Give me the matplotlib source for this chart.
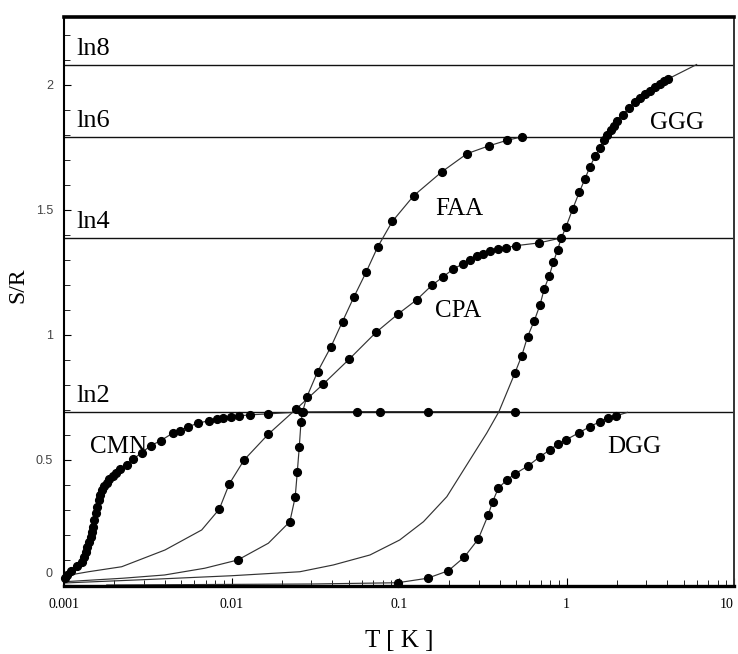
import numpy as np
import matplotlib.pyplot as plt
import matplotlib.transforms as mtransforms
from matplotlib.ticker import MultipleLocator

# Plateau levels S/R = ln(n)
ln_n = [2, 4, 6, 8]
ln_labels = ["ln2", "ln4", "ln6", "ln8"]

# CMN (measured points)
cmn_T = [0.00101, 0.00104, 0.00110, 0.00120, 0.00128, 0.00132, 0.00135, 0.00138, 0.00141,
         0.00144, 0.00147, 0.00150, 0.00152, 0.00155, 0.00158, 0.00161, 0.00164, 0.00168,
         0.00173, 0.00180, 0.00186, 0.00195, 0.00204, 0.00216, 0.00237, 0.00259, 0.00291,
         0.00330, 0.00378, 0.00446, 0.00493, 0.00552, 0.00634, 0.00738, 0.00817, 0.00893,
         0.00989, 0.0111, 0.0129, 0.0166, 0.0262, 0.0559, 0.0771, 0.148, 0.493]
cmn_S = [0.028, 0.04, 0.057, 0.077, 0.093, 0.113, 0.133, 0.153, 0.173, 0.193, 0.213, 0.233,
         0.26, 0.287, 0.313, 0.34, 0.36, 0.38, 0.396, 0.409, 0.423, 0.436, 0.449, 0.463,
         0.48, 0.503, 0.529, 0.557, 0.577, 0.607, 0.617, 0.633, 0.647, 0.657, 0.663, 0.668,
         0.673, 0.676, 0.68, 0.684, 0.692, 0.693, 0.693, 0.693, 0.693]

# CPA
cpa_fit_T = [0.001, 0.0014, 0.00221, 0.00401, 0.00664, 0.889]
cpa_fit_S = [0.036, 0.053, 0.073, 0.14, 0.22, 1.384]
cpa_T = [0.00845, 0.0097, 0.0119, 0.0166, 0.0243, 0.0353, 0.0505, 0.0730, 0.0991, 0.1276,
         0.1567, 0.1837, 0.2109, 0.2399, 0.2655, 0.2911, 0.3184, 0.3491, 0.3917, 0.4355,
         0.4977, 0.6823]
cpa_S = [0.303, 0.404, 0.50, 0.603, 0.703, 0.803, 0.903, 1.01, 1.084, 1.14, 1.197, 1.232,
         1.263, 1.283, 1.30, 1.313, 1.323, 1.335, 1.343, 1.348, 1.356, 1.367]

# FAA
faa_fit_T = [0.001, 0.00224, 0.00398, 0.00692, 0.0166]
faa_fit_S = [0.013, 0.027, 0.04, 0.067, 0.167]
faa_T = [0.0109, 0.0223, 0.0240, 0.0247, 0.0254, 0.0260, 0.0266, 0.0281, 0.0327, 0.0393,
         0.0460, 0.0538, 0.0635, 0.0746, 0.0912, 0.1225, 0.180, 0.255, 0.344, 0.440, 0.541]
faa_S = [0.10, 0.253, 0.351, 0.451, 0.553, 0.653, 0.693, 0.75, 0.853, 0.953, 1.053, 1.151,
         1.249, 1.351, 1.453, 1.556, 1.651, 1.724, 1.755, 1.777, 1.791]

# GGG
ggg_fit_T = [0.001, 0.00316, 0.01, 0.0256, 0.0405, 0.0671, 0.101, 0.14, 0.193, 0.265,
             0.334, 0.395, 5.98]
ggg_fit_S = [0.008, 0.022, 0.037, 0.053, 0.08, 0.12, 0.18, 0.253, 0.353, 0.50, 0.607,
             0.693, 2.08]
ggg_T = [0.492, 0.541, 0.586, 0.643, 0.695, 0.736, 0.789, 0.834, 0.885, 0.931, 0.993,
         1.089, 1.191, 1.288, 1.380, 1.479, 1.585, 1.675, 1.754, 1.837, 1.923, 1.995,
         2.168, 2.371, 2.564, 2.748, 2.944, 3.155, 3.373, 3.614, 3.837, 4.055]
ggg_S = [0.847, 0.917, 0.993, 1.057, 1.12, 1.183, 1.236, 1.289, 1.34, 1.386, 1.431, 1.503,
         1.569, 1.623, 1.671, 1.713, 1.747, 1.777, 1.80, 1.82, 1.836, 1.853, 1.88, 1.907,
         1.929, 1.947, 1.963, 1.976, 1.989, 2.003, 2.013, 2.023]

# DGG
dgg_fit_T = [0.0018, 0.03, 2.31]
dgg_fit_S = [0.0, 0.004, 0.69]
dgg_T = [0.098, 0.148, 0.197, 0.245, 0.297, 0.341, 0.362, 0.392, 0.44, 0.493, 0.592,
         0.695, 0.796, 0.887, 0.993, 1.19, 1.38, 1.585, 1.778, 1.98]
dgg_S = [0.009, 0.027, 0.057, 0.111, 0.183, 0.28, 0.333, 0.387, 0.42, 0.444, 0.477,
         0.513, 0.54, 0.562, 0.58, 0.609, 0.633, 0.653, 0.667, 0.676]

# label positions (lower left of text)
names = ["CMN", "CPA", "FAA", "GGG", "DGG"]
name_T = [0.00143, 0.164, 0.164, 3.15, 1.752]
name_S = [0.528, 1.073, 1.48, 1.823, 0.527]

serif = "Liberation Serif"

fig = plt.figure(figsize=(7.38, 6.54), dpi=100)
ax = fig.add_axes([64 / 738, 68 / 654, 670 / 738, 569 / 654])
ax.set_xscale("log")
ax.set_xlim(0.001, 10)
ax.set_ylim(-0.004, 2.27)

# horizontal ln(n) lines
for n, lab in zip(ln_n, ln_labels):
    ax.axhline(np.log(n), color="#111111", lw=1.0, zorder=1)
    ax.annotate(lab, (0.00118, np.log(n)), xytext=(0, 7), textcoords="offset points",
                va="baseline", ha="left", fontsize=19, family=serif)


def curve(fit_T, fit_S, T, S):
    t = np.concatenate([fit_T, T])
    s = np.concatenate([fit_S, S])
    o = np.argsort(t)
    ax.plot(t[o], s[o], color="#333333", lw=0.85, zorder=2)
    ax.plot(T, S, "o", color="black", ms=5.6, zorder=3, clip_on=False)


curve([], [], cmn_T, cmn_S)
curve(cpa_fit_T, cpa_fit_S, cpa_T, cpa_S)
curve(faa_fit_T, faa_fit_S, faa_T, faa_S)
curve(ggg_fit_T, ggg_fit_S, ggg_T, ggg_S)
curve(dgg_fit_T, dgg_fit_S, dgg_T, dgg_S)

for name, t, s in zip(names, name_T, name_S):
    ax.text(t, s, name, fontsize=18, family=serif, va="baseline", ha="left")

# axes styling
ax.set_xticks([0.001, 0.01, 0.1, 1, 10])
ax.set_xticklabels(["0.001", "0.01", "0.1", "1", "10"], fontfamily=serif)
ax.set_yticks([0, 0.5, 1, 1.5, 2])
ax.set_yticklabels(["0", "0.5", "1", "1.5", "2"], fontfamily="Liberation Sans")
ax.yaxis.set_minor_locator(MultipleLocator(0.1))

ax.tick_params(which="both", direction="in", top=False, right=False)
ax.tick_params(axis="x", which="major", length=6, labelsize=10, pad=9)
ax.tick_params(axis="x", which="minor", length=4)
ax.tick_params(axis="y", which="major", length=5, labelsize=9, pad=8, labelcolor="#444444")
ax.tick_params(axis="y", which="minor", length=4)

# the "10" sits flush against the right edge, as in the original
ax.get_xticklabels()[-1].set_horizontalalignment("right")

ax.spines["top"].set_linewidth(2.6)
ax.spines["bottom"].set_linewidth(2.4)
ax.spines["left"].set_linewidth(1.5)
ax.spines["right"].set_linewidth(1.4)
ax.spines["right"].set_color("#333333")

# lift the "0" label a little like the original
lab0 = ax.yaxis.get_major_ticks()[0].label1
lab0.set_transform(lab0.get_transform() +
                   mtransforms.ScaledTranslation(0, 9 / 72, fig.dpi_scale_trans))

ax.set_xlabel("T [ K ]", fontsize=18, family=serif)
ax.xaxis.label.set_va("center")
ax.xaxis.set_label_coords(0.5, -0.097)
ax.set_ylabel("S/R", fontsize=17, family=serif)
ax.yaxis.label.set_va("center")
ax.yaxis.set_label_coords(-0.069, 0.528)

fig.savefig("out.png", dpi=100)
